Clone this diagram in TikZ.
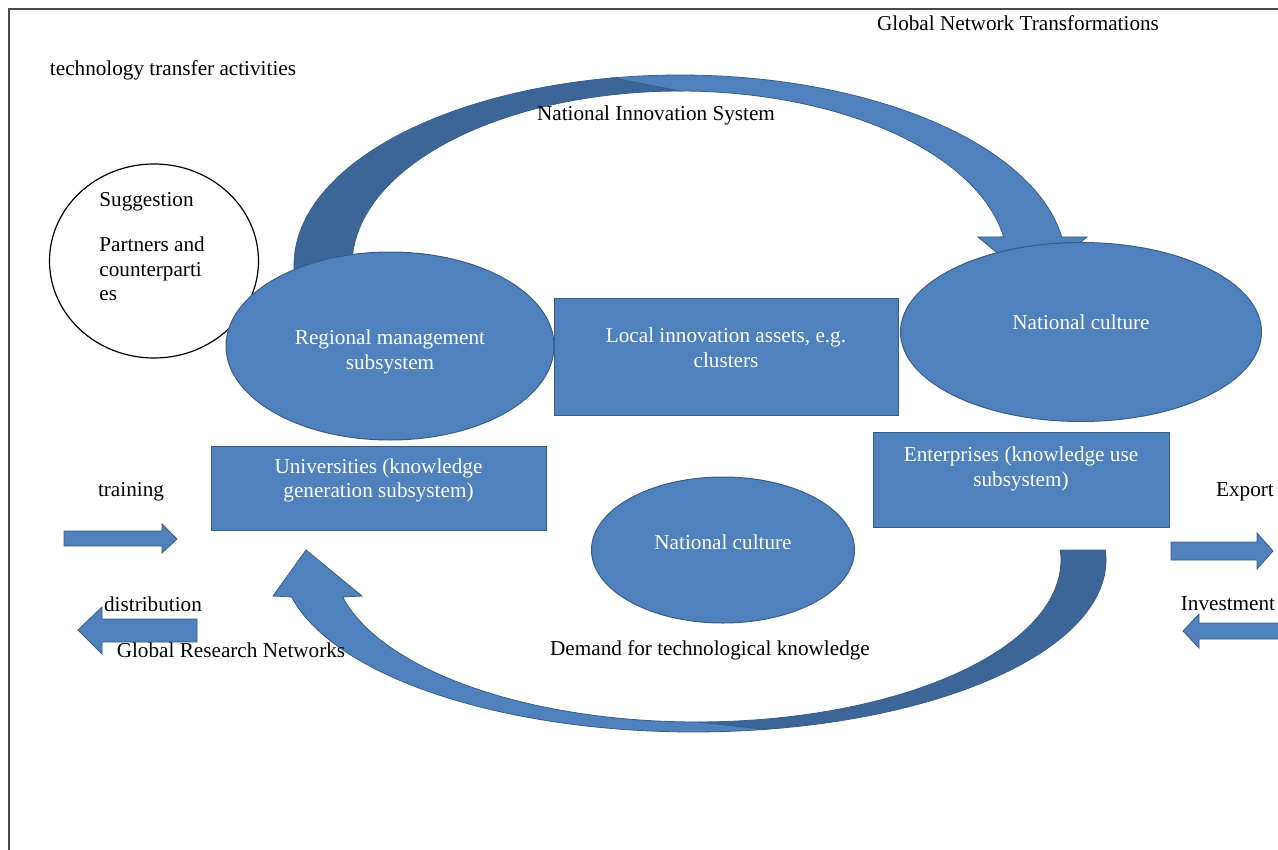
\documentclass[tikz,border=0pt]{standalone}
\usepackage{fontspec}
\setmainfont{Liberation Serif}
\usetikzlibrary{shapes.geometric}
\definecolor{boxblue}{HTML}{4F81BD}
\definecolor{backblue}{HTML}{3D6698}
\definecolor{edgeblue}{HTML}{385D8A}
\definecolor{framegray}{HTML}{4A4A4A}
\begin{document}
\begin{tikzpicture}[x=0.5pt, y=-0.5pt,
    every node/.style={font=\fontsize{10.6}{12.4}\selectfont},
    plaintext/.style={inner sep=0pt},
    bluebox/.style={rectangle, draw=edgeblue, fill=boxblue, text=white, align=center, line width=0.5pt},
    blueoval/.style={ellipse, draw=edgeblue, fill=boxblue, text=white, align=center, line width=0.5pt},
    blockarrow/.style={draw=edgeblue, fill=boxblue, line width=0.4pt},
    arcfront/.style={draw=edgeblue, fill=boxblue, line width=0.4pt},
    arcback/.style={draw=edgeblue, fill=backblue, line width=0.4pt}]
\useasboundingbox (0,0) rectangle (1278,850);
\draw[framegray, line width=1pt] (9,850) -- (9,9) -- (1278,9);

\filldraw[arcback] plot[domain=182:100, samples=40] ({680+386*cos(\x)}, {265-190*sin(\x)})
    -- plot[domain=90:182, samples=40] ({680+328*cos(\x)}, {265-174*sin(\x)}) -- cycle;
\filldraw[arcfront] plot[domain=100:8.5, samples=50] ({680+386*cos(\x)}, {265-190*sin(\x)})
    -- (1087,237) -- (1032,282) -- (978,237)
    -- plot[domain=9.3:90, samples=50] ({680+328*cos(\x)}, {265-174*sin(\x)}) -- cycle;

\filldraw[arcback] plot[domain=-3.3:80, samples=40] ({694+412*cos(\x)}, {560+172*sin(\x)})
    -- plot[domain=90:-3.5, samples=40] ({697+364*cos(\x)}, {560+162*sin(\x)}) -- cycle;
\filldraw[arcfront] plot[domain=80:167.6, samples=50] ({694+412*cos(\x)}, {560+172*sin(\x)})
    -- (273,596) -- (306,550) -- (362,596)
    -- plot[domain=166.8:90, samples=50] ({697+364*cos(\x)}, {560+162*sin(\x)}) -- cycle;

\node[ellipse, draw, line width=0.6pt, minimum width=104.5pt, minimum height=97pt] (suggestion) at (154,261) {};
\node[plaintext, align=left, anchor=north west] (suggesttext) at (99,192) {Suggestion\\[10pt]Partners and\\counterparti\\es};

\node[blueoval, minimum width=164pt, minimum height=94pt, text height=25.7pt] (regional) at (390,346) {Regional management\\subsystem};
\node[bluebox, minimum width=172pt, minimum height=58.5pt, text depth=8.6pt] (local) at (726,356.5) {Local innovation assets, e.g.\\clusters};
\node[blueoval, minimum width=180.5pt, minimum height=89.5pt, text depth=10pt] (culture) at (1081,332) {National culture};
\node[bluebox, minimum width=167.5pt, minimum height=42pt, text depth=9.8pt] (univ) at (378.5,488) {Universities (knowledge\\generation subsystem)};
\node[bluebox, minimum width=148pt, minimum height=47.5pt, text depth=12.8pt] (enterprise) at (1021,479.5) {Enterprises (knowledge use\\subsystem)};
\node[blueoval, minimum width=131.5pt, minimum height=73pt, text depth=8pt] (culturemid) at (723,550) {National culture};

\filldraw[blockarrow] (64,531) -- (162,531) -- (162,524) -- (177,539) -- (162,553) -- (162,546) -- (64,546) -- cycle;
\filldraw[blockarrow] (197,619) -- (102,619) -- (102,607) -- (78,630) -- (102,654) -- (102,642) -- (197,642) -- cycle;
\filldraw[blockarrow] (1171,542) -- (1257,542) -- (1257,533) -- (1273,551) -- (1257,569) -- (1257,560) -- (1171,560) -- cycle;
\filldraw[blockarrow] (1280,623) -- (1199,623) -- (1199,614) -- (1183,631) -- (1199,648) -- (1199,639) -- (1280,639) -- cycle;

\node[plaintext] (transfer) at (173,70) {technology transfer activities};
\node[plaintext] (globalnet) at (1018,23) {Global Network Transformations};
\node[plaintext] (nis) at (656,115) {National Innovation System};
\node[plaintext] (training) at (131,492) {training};
\node[plaintext] (distribution) at (153,604) {distribution};
\node[plaintext] (research) at (231,650) {Global Research Networks};
\node[plaintext] (demand) at (710,650) {Demand for technological knowledge};
\node[plaintext] (export) at (1245,492) {Export};
\node[plaintext] (investment) at (1228,604) {Investment};
\end{tikzpicture}
\end{document}
